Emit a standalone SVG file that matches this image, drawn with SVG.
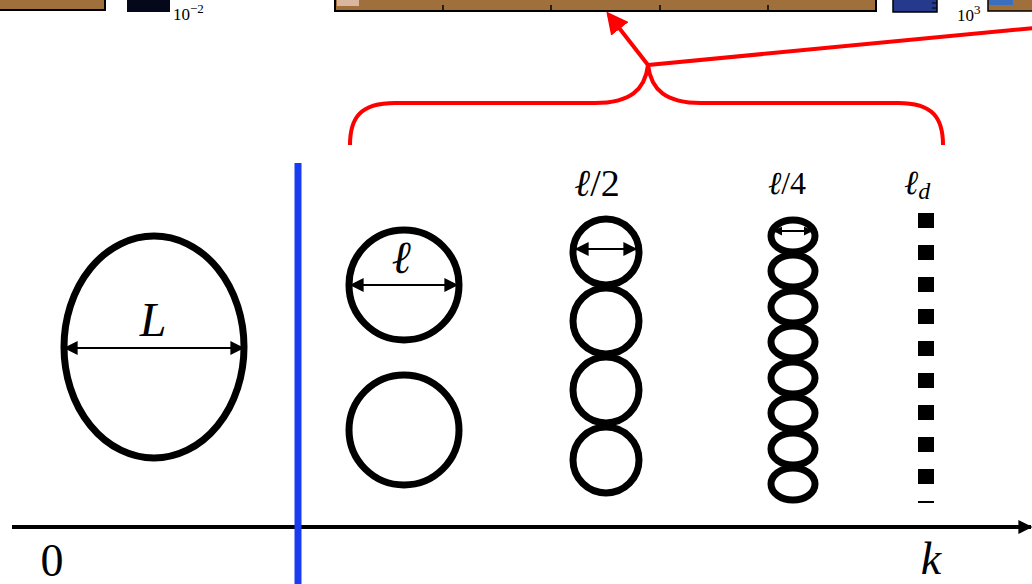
<svg xmlns="http://www.w3.org/2000/svg" width="1032" height="584" viewBox="0 0 1032 584">
<style>
.ring{fill:none;stroke:#000;stroke-width:7}
.dim{stroke:#000;stroke-width:2;fill:none}
.lbl{font-family:"Liberation Serif","DejaVu Serif",serif;fill:#000}
.it{font-family:"Liberation Serif","DejaVu Serif",serif;font-style:italic}
.red{stroke:#f00;stroke-width:4;fill:none}
.sq{fill:#000}
</style>
<defs>
<marker id="ah" viewBox="0 0 10 10" refX="9" refY="5" markerWidth="9" markerHeight="9" markerUnits="userSpaceOnUse" orient="auto-start-reverse">
<path d="M0,0 L10,5 L0,10 z" fill="#000"/>
</marker>
<marker id="ahs" viewBox="0 0 10 10" refX="9" refY="5" markerWidth="15" markerHeight="14" markerUnits="userSpaceOnUse" orient="auto-start-reverse">
<path d="M0,0 L10,5 L0,10 z" fill="#000"/>
</marker>
<marker id="rh" viewBox="0 0 10 10" refX="8" refY="5" markerWidth="22" markerHeight="22" markerUnits="userSpaceOnUse" orient="auto">
<path d="M0,0 L10,5 L0,10 z" fill="#f00"/>
</marker>
</defs>
<g id="top-strip">
<rect x="-2" y="-2" width="107" height="12" fill="#a0703c" stroke="#000" stroke-width="2"/>
<rect x="127" y="0" width="43" height="12" fill="#05081a"/>
<text class="lbl" x="173" y="20" font-size="17">10<tspan dy="-7" font-size="13">−2</tspan></text>
<rect x="335" y="-2" width="541" height="13" fill="#a0703c" stroke="#000" stroke-width="2"/>
<rect x="337" y="0" width="22" height="6" fill="#e8c8b8" opacity="0.8"/>
<path d="M443,11 V5 M551,11 V5 M660,11 V5 M768,11 V5" stroke="#000" stroke-width="1.5"/>
<rect x="893" y="-1" width="44" height="13" fill="#253a8c" stroke="#000" stroke-width="1.5"/>
<path d="M932,3 H937 M932,8 H937" stroke="#000" stroke-width="1"/>
<text class="lbl" x="957" y="21" font-size="17">10<tspan dy="-7" font-size="13">3</tspan></text>
<rect x="988" y="-2" width="46" height="13" fill="#a0703c" stroke="#000" stroke-width="1.5"/>
<rect x="989" y="0" width="24" height="5" fill="#3a6fc0"/>
</g>
<g id="connectors">
<path class="red" d="M350,145 C350,118 360,103 395,103 L595,103 C630,103 645,90 648,65 C651,90 666,103 701,103 L898,103 C933,103 943,118 943,145"/>
<line class="red" x1="648" y1="65" x2="609" y2="15" marker-end="url(#rh)"/>
<line class="red" x1="648" y1="65" x2="1034" y2="28"/>
<line x1="12" y1="527" x2="1031" y2="527" stroke="#000" stroke-width="4" marker-end="url(#ahs)"/>
<line x1="298" y1="163" x2="298" y2="584" stroke="#1a3cf0" stroke-width="7"/>
</g>
<g id="node-L">
<ellipse class="ring" cx="154" cy="347" rx="90" ry="111"/>
<line class="dim" x1="65" y1="348" x2="243" y2="348" marker-start="url(#ahs)" marker-end="url(#ahs)"/>
<text class="lbl" x="153" y="336" font-size="48" font-style="italic" text-anchor="middle">L</text>
</g>
<g id="node-l">
<circle class="ring" cx="404" cy="285" r="55"/>
<circle class="ring" cx="404" cy="430" r="55"/>
<line class="dim" x1="351" y1="285" x2="457" y2="285" marker-start="url(#ahs)" marker-end="url(#ahs)"/>
<text class="it" x="401" y="273" font-size="46" text-anchor="middle">ℓ</text>
</g>
<g id="node-l2">
<circle class="ring" cx="606" cy="252" r="33"/>
<circle class="ring" cx="606" cy="321" r="33"/>
<circle class="ring" cx="606" cy="390" r="33"/>
<circle class="ring" cx="606" cy="460" r="33"/>
<line class="dim" x1="576" y1="249" x2="636" y2="249" marker-start="url(#ahs)" marker-end="url(#ahs)"/>
<text class="lbl" x="597" y="196" font-size="38" text-anchor="middle"><tspan class="it">ℓ</tspan>/2</text>
</g>
<g id="node-l4">
<ellipse class="ring" cx="793" cy="236" rx="22" ry="16"/>
<ellipse class="ring" cx="793" cy="271" rx="22" ry="16"/>
<ellipse class="ring" cx="793" cy="307" rx="22" ry="16"/>
<ellipse class="ring" cx="793" cy="342" rx="22" ry="16"/>
<ellipse class="ring" cx="793" cy="378" rx="22" ry="16"/>
<ellipse class="ring" cx="793" cy="413" rx="22" ry="16"/>
<ellipse class="ring" cx="793" cy="449" rx="22" ry="16"/>
<ellipse class="ring" cx="793" cy="484" rx="22" ry="16"/>
<line class="dim" x1="774" y1="231" x2="812" y2="231" marker-start="url(#ah)" marker-end="url(#ah)"/>
<text class="lbl" x="787" y="194" font-size="32" text-anchor="middle"><tspan class="it">ℓ</tspan>/4</text>
</g>
<g id="node-ld">
<rect class="sq" x="918" y="213" width="16" height="15"/>
<rect class="sq" x="918" y="245" width="16" height="15"/>
<rect class="sq" x="918" y="277" width="16" height="15"/>
<rect class="sq" x="918" y="309" width="16" height="15"/>
<rect class="sq" x="918" y="341" width="16" height="15"/>
<rect class="sq" x="918" y="373" width="16" height="15"/>
<rect class="sq" x="918" y="405" width="16" height="15"/>
<rect class="sq" x="918" y="437" width="16" height="15"/>
<rect class="sq" x="918" y="469" width="16" height="15"/>
<rect class="sq" x="918" y="501" width="16" height="2"/>
<text class="lbl" x="904" y="194" font-size="34"><tspan class="it">ℓ</tspan><tspan font-size="24" font-style="italic" dy="5">d</tspan></text>
</g>
<g id="axis-labels">
<text class="lbl" x="52" y="576" font-size="46" text-anchor="middle">0</text>
<text class="lbl" x="931" y="574" font-size="46" font-style="italic" text-anchor="middle">k</text>
</g>
</svg>
